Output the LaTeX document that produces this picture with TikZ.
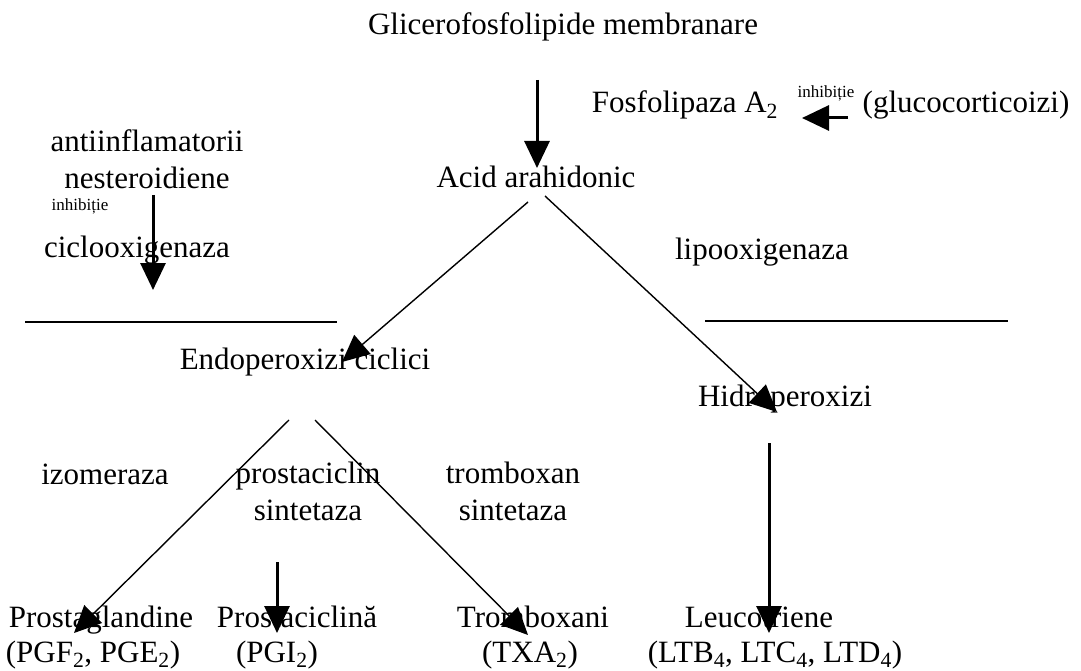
\documentclass[tikz,border=0pt]{standalone}
\usepackage{fontspec}
\setmainfont{Liberation Serif}
\usetikzlibrary{arrows.meta}
\tikzset{>={Triangle[length=27pt,width=25pt]},every node/.style={font=\fontsize{31}{37}\selectfont,inner sep=0pt,align=center},
 small/.style={font=\fontsize{17}{20}\selectfont},
 thinarrow/.style={draw,line width=1.4pt,->},thickarrow/.style={draw,line width=3pt,->},
 rule/.style={draw,line width=1.4pt}}
\begin{document}
\begin{tikzpicture}[x=1pt,y=-1pt]
\useasboundingbox (0,0) rectangle (1081,671);
% substrates
\node (glic) at (563,27) {Glicerofosfolipide membranare};
\node (fosf) at (685,105) {Fosfolipaza A\textsubscript{2}};
\node[small] (inhA) at (826,93) {inhibiție};
\node (gluco) at (966,105) {(glucocorticoizi)};
\node (acid) at (536,177) {Acid arahidonic};
\node (ains) at (147,159) {antiinflamatorii\\nesteroidiene};
\node[small] (inhC) at (80,206) {inhibiție};
\node (cox) at (137,250) {ciclooxigenaza};
\node (lox) at (762,252) {lipooxigenaza};
\node (endo) at (305,362) {Endoperoxizi ciclici};
\node (hidro) at (785,399) {Hidroperoxizi};
% enzymes
\node (izo) at (105,474) {izomeraza};
\node (pcs) at (308,491) {prostaciclin\\sintetaza};
\node (txs) at (513,491) {tromboxan\\sintetaza};
% products
\node[anchor=base] (pg) at (101,627) {Prostaglandine};
\node[anchor=base] (pgx) at (93,662) {(PGF\textsubscript{2}, PGE\textsubscript{2})};
\node[anchor=base] (pgi) at (297,627) {Prostaciclină};
\node[anchor=base] (pgix) at (277,662) {(PGI\textsubscript{2})};
\node[anchor=base] (tx) at (533,627) {Tromboxani};
\node[anchor=base] (txx) at (530,662) {(TXA\textsubscript{2})};
\node[anchor=base] (lt) at (759,627) {Leucotriene};
\node[anchor=base] (ltx) at (775,662) {(LTB\textsubscript{4}, LTC\textsubscript{4}, LTD\textsubscript{4})};
% arrow ends
\coordinate (glicOut) at (537,80); \coordinate (acidIn) at (537,168);
\coordinate (glucoOut) at (848,118); \coordinate (fosfIn) at (802,118);
\coordinate (ainsOut) at (153,195); \coordinate (coxIn) at (153,290);
\coordinate (acidL) at (528,202); \coordinate (endoIn) at (342,362);
\coordinate (acidR) at (545,196); \coordinate (hidroIn) at (777,412);
\coordinate (endoL) at (289,420); \coordinate (pgIn) at (74,633);
\coordinate (endoR) at (315,420); \coordinate (txIn) at (528,635);
\coordinate (pcsOut) at (277,562); \coordinate (pgiIn) at (277,633);
\coordinate (hidroOut) at (769,443); \coordinate (ltIn) at (769,633);
\draw[thickarrow] (glicOut) -- (acidIn);
\draw[thickarrow] (glucoOut) -- (fosfIn);
\draw[thickarrow] (ainsOut) -- (coxIn);
\draw[thinarrow] (acidL) -- (endoIn);
\draw[thinarrow] (acidR) -- (hidroIn);
\draw[thinarrow] (endoL) -- (pgIn);
\draw[thinarrow] (endoR) -- (txIn);
\draw[thickarrow] (pcsOut) -- (pgiIn);
\draw[thickarrow] (hidroOut) -- (ltIn);
% separators
\draw[rule] (25,322) -- (337,322);
\draw[rule] (705,321) -- (1008,321);
\end{tikzpicture}
\end{document}
